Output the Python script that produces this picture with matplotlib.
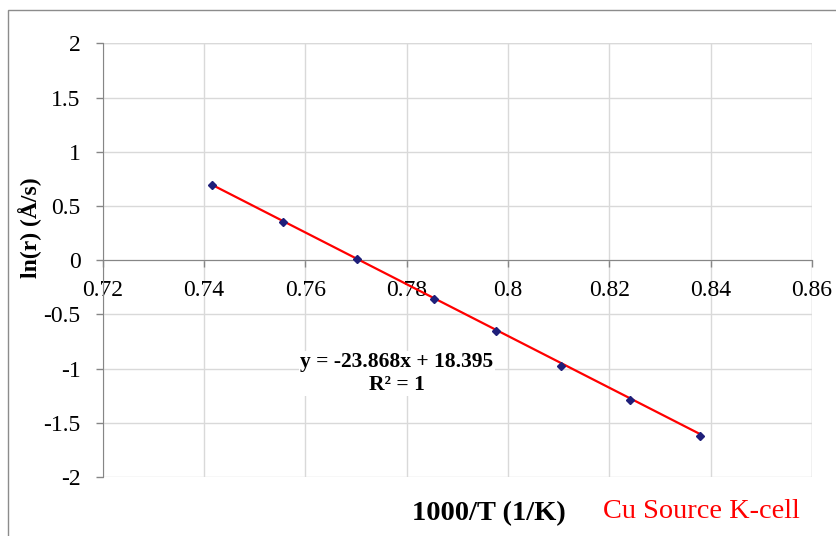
import matplotlib
matplotlib.use("Agg")
import matplotlib.pyplot as plt
from matplotlib.patches import Rectangle
import numpy as np

# Data (1000/T in 1/K, ln(r) in Å/s)
inv_T = [0.7416, 0.7555, 0.7701, 0.7854, 0.7976, 0.8105, 0.8240, 0.8378]
ln_r = [0.690, 0.349, 0.011, -0.355, -0.650, -0.980, -1.287, -1.619]
slope = -23.868
intercept = 18.395
x_ticks = [0.72, 0.74, 0.76, 0.78, 0.80, 0.82, 0.84, 0.86]
x_tick_labels = ["0.72", "0.74", "0.76", "0.78", "0.8", "0.82", "0.84", "0.86"]
y_ticks = [-2, -1.5, -1, -0.5, 0, 0.5, 1, 1.5, 2]
y_tick_labels = ["-2", "-1.5", "-1", "-0.5", "0", "0.5", "1", "1.5", "2"]

plt.rcParams['font.family'] = ['Liberation Serif', 'DejaVu Serif']

W, H = 837, 536
fig = plt.figure(figsize=(W / 100, H / 100), dpi=100)

# outer chart border
fig.patches.append(Rectangle((8 / W, -0.1), 1.5, 1 - 9.5 / H + 0.1, transform=fig.transFigure,
                             fill=False, edgecolor='#8c8c8c', linewidth=1.0))

ax = fig.add_axes([102.7 / W, 1 - 477 / H, (812 - 102.7) / W, (477 - 43.3) / H])
ax.set_xlim(0.72, 0.86)
ax.set_ylim(-2, 2)

ax.set_xticks(x_ticks)
ax.set_xticklabels(x_tick_labels)
ax.set_yticks(y_ticks)
ax.set_yticklabels(y_tick_labels)

ax.grid(True, color='#d9d9d9', linewidth=1.0)
ax.set_axisbelow(True)

for s in ['top', 'right']:
    ax.spines[s].set_visible(False)
ax.spines['bottom'].set_position(('data', 0))
ax.spines['bottom'].set_color('#868686')
ax.spines['left'].set_color('#868686')
ax.spines['bottom'].set_zorder(1.5)

# top and right grid boundaries
ax.axhline(2, color='#d9d9d9', linewidth=1.0, zorder=0.5)
ax.axvline(0.86, color='#d9d9d9', linewidth=1.0, zorder=0.5)

ax.tick_params(axis='y', direction='out', length=5, width=1, color='#868686',
               labelsize=17, pad=11)
ax.tick_params(axis='x', direction='out', length=5, width=1, color='#868686',
               labelsize=17, pad=9)

# trendline
xs = np.array([min(inv_T), max(inv_T)])
ax.plot(xs, slope * xs + intercept, color='#ff0000', linewidth=1.6, zorder=3)
ax.plot(inv_T, ln_r, linestyle='none', marker='D', markersize=4.2,
        color='#1f1f7a', zorder=4)

# equation text
fig.text(397 / W, 1 - 373.5 / H, "y = -23.868x + 18.395\nR\u00b2 = 1", ha='center', va='center',
         fontsize=15.5, fontweight='bold', linespacing=1.2,
         bbox=dict(facecolor='white', edgecolor='none', pad=1))

# axis labels
fig.text(30 / W, 1 - 228 / H, "ln(r) (Å/s)", rotation=90, ha='center', va='center',
         fontsize=17, fontweight='bold')
fig.text(489 / W, 1 - 514 / H, "1000/T (1/K)", ha='center', va='center',
         fontsize=20.5, fontweight='bold')
fig.text(701 / W, 1 - 512 / H, "Cu Source K-cell", ha='center', va='center',
         fontsize=20.4, color='#ff0000')

fig.savefig("out.png", dpi=100)
